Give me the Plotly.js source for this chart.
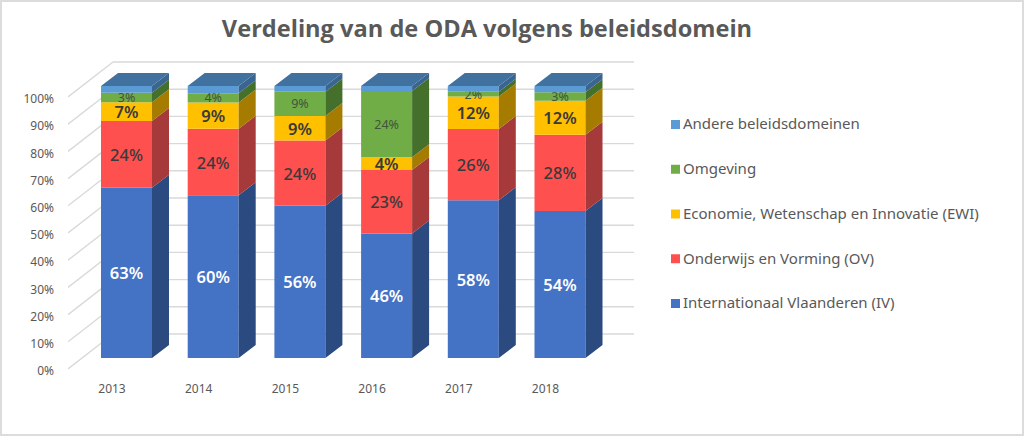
<!DOCTYPE html>
<html><head><meta charset="utf-8">
<script src="https://cdn.plot.ly/plotly-3.0.1.min.js"></script>
<style>
html,body{margin:0;padding:0;background:#fff;overflow:hidden}
#wrap{position:relative;width:1024px;height:436px}
#chart{width:1024px;height:436px}
#frame{position:absolute;left:0;top:0;width:1024px;height:436px;box-sizing:border-box;border:2px solid #dcdcdc;pointer-events:none;z-index:10}
</style></head><body>
<div id="wrap"><div id="chart"></div><div id="frame"></div></div>
<script>
const years = ['2013','2014','2015','2016','2017','2018'];
const chartTitle = 'Verdeling van de ODA volgens beleidsdomein';
const names = ['Internationaal Vlaanderen (IV)','Onderwijs en Vorming (OV)','Economie, Wetenschap en Innovatie (EWI)','Omgeving','Andere beleidsdomeinen'];
const iv     = [62.6,59.8,56.0,45.8,58.0,54.0];
const ov     = [24.5,24.5,24.0,23.3,26.2,28.1];
const ewi    = [6.9,9.6,9.0,4.7,11.9,12.5];
const omg    = [3.5,3.4,8.9,24.4,1.8,3.1];
const andere = [2.5,2.7,2.1,1.8,2.1,2.3];
const ivLabels  = ['63%','60%','56%','46%','58%','54%'];
const ovLabels  = ['24%','24%','24%','23%','26%','28%'];
const ewiLabels = ['7%','9%','9%','4%','12%','12%'];
const omgLabels = ['3%','4%','9%','24%','2%','3%'];
const pctTicks = [0,10,20,30,40,50,60,70,80,90,100];

const series = [iv,ov,ewi,omg,andere];
const labels = [ivLabels,ovLabels,ewiLabels,omgLabels,null];
const front = ['#4472C4','#FF5050','#FFC000','#70AD47','#5B9BD5'];
const side  = ['#2A4A80','#A63A3A','#A67C00','#45702C','#3B6591'];
const topC  = '#41719F';
const textC = ['#ffffff','#3a3a3a','#3a3a3a','#44543c',null];
const textS = [16.5,16.5,16.5,12.5,12];
const textW = [600,500,600,400,400];

// pixel frame
const W=1024,H=436,L=68,T=50,B=376,R=634;
const x0px=126.5, xStep=86.7, yZero=358, yPx=2.72;
const xr=[(L-x0px)/xStep,(R-x0px)/xStep];
const yr=[(yZero-B)/yPx,(yZero-T)/yPx];
const barW=51/xStep, dX=17/xStep, dY=13/yPx;
const wallX=(113-x0px)/xStep, wallY=(yZero-334)/yPx, tickY=(yZero-369)/yPx, labelY=(yZero-371)/yPx;

const traces=[];
const cum=years.map(()=>0);
const idx=years.map((_,i)=>i);
series.forEach((vals,s)=>{
  const base=cum.slice();
  traces.push({type:'bar',x:idx,y:vals,base:base,width:barW,offset:-barW/2,
    marker:{color:front[s],line:{width:0}},
    text:labels[s]||undefined,textposition:labels[s]?'inside':'none',insidetextanchor:'middle',
    textangle:0,constraintext:'none',
    textfont:{family:'Noto Sans',size:textS[s],weight:textW[s],color:textC[s]||'#000'},
    showlegend:false,hoverinfo:'skip',xaxis:'x',yaxis:'y'});
  const sx=[],sy=[];
  vals.forEach((v,i)=>{
    const r=i+barW/2, lo=base[i], hi=base[i]+v;
    sx.push(r,r+dX,r+dX,r,r,null); sy.push(lo,lo+dY,hi+dY,hi,lo,null);
    cum[i]=hi;
  });
  traces.push({type:'scatter',mode:'lines',x:sx,y:sy,fill:'toself',fillcolor:side[s],
    line:{width:0},showlegend:false,hoverinfo:'skip',xaxis:'x',yaxis:'y'});
});
const tx=[],ty=[];
cum.forEach((c,i)=>{
  const a=i-barW/2,b=i+barW/2;
  tx.push(a,b,b+dX,a+dX,a,null); ty.push(c,c,c+dY,c+dY,c,null);
});
traces.push({type:'scatter',mode:'lines',x:tx,y:ty,fill:'toself',fillcolor:topC,line:{width:0},
  showlegend:false,hoverinfo:'skip',xaxis:'x',yaxis:'y'});

// legend drawn as markers + text in its own hidden subplot
const legSlot=44.75;
names.forEach((n,s)=>{
  traces.push({type:'scatter',mode:'markers',x:[12.5],y:[s],
    marker:{symbol:'square',size:9,color:front[s]},cliponaxis:false,
    showlegend:false,hoverinfo:'skip',xaxis:'x2',yaxis:'y2'});
  traces.push({type:'scatter',mode:'text',x:[20],y:[s-1/legSlot],text:[n],textposition:'middle right',cliponaxis:false,
    textfont:{family:'Noto Sans',size:15,color:'#595959'},
    showlegend:false,hoverinfo:'skip',xaxis:'x2',yaxis:'y2'});
});

const grid={color:'#d9d9d9',width:1.4};
const shapes=[];
pctTicks.forEach(v=>{
  shapes.push({type:'line',layer:'below',xref:'x',yref:'y',x0:wallX,x1:xr[1],y0:v+wallY,y1:v+wallY,line:grid});
  shapes.push({type:'line',layer:'below',xref:'x',yref:'y',x0:xr[0],x1:wallX,y0:v+tickY,y1:v+wallY,line:grid});
});

const pw=W-L;
const layout={
  width:W,height:H,autosize:false,
  margin:{l:L,r:0,t:T,b:H-B,pad:0},
  paper_bgcolor:'#fff',plot_bgcolor:'rgba(0,0,0,0)',
  barmode:'overlay',showlegend:false,
  title:{text:'<b>'+chartTitle+'</b>',x:487/W,xanchor:'center',y:1-29/H,yanchor:'middle',
    font:{family:'Open Sans',size:23.6,color:'#595959'}},
  xaxis:{domain:[0,(R-L)/pw],range:xr,showgrid:false,zeroline:false,showline:false,ticks:'',
    tickmode:'array',tickvals:idx.map(i=>i-14.5/xStep),ticktext:years,ticklabelstandoff:4,
    tickfont:{family:'Noto Sans',size:12,color:'#595959'}},
  yaxis:{range:yr,showgrid:false,zeroline:false,showline:false,ticks:'',
    tickmode:'array',tickvals:pctTicks.map(v=>v+labelY),ticktext:pctTicks.map(v=>v+'%'),
    ticklabelstandoff:13,
    tickfont:{family:'Noto Sans',size:12,color:'#595959'}},
  xaxis2:{domain:[(663-L)/pw,1],range:[0,W-663],visible:false,anchor:'y2'},
  yaxis2:{domain:[0,1],range:[(303.5-B)/legSlot,(303.5-T)/legSlot],visible:false,anchor:'x2'},
  shapes:shapes
};
Plotly.newPlot('chart',traces,layout,{displayModeBar:false,staticPlot:true});
</script></body></html>
